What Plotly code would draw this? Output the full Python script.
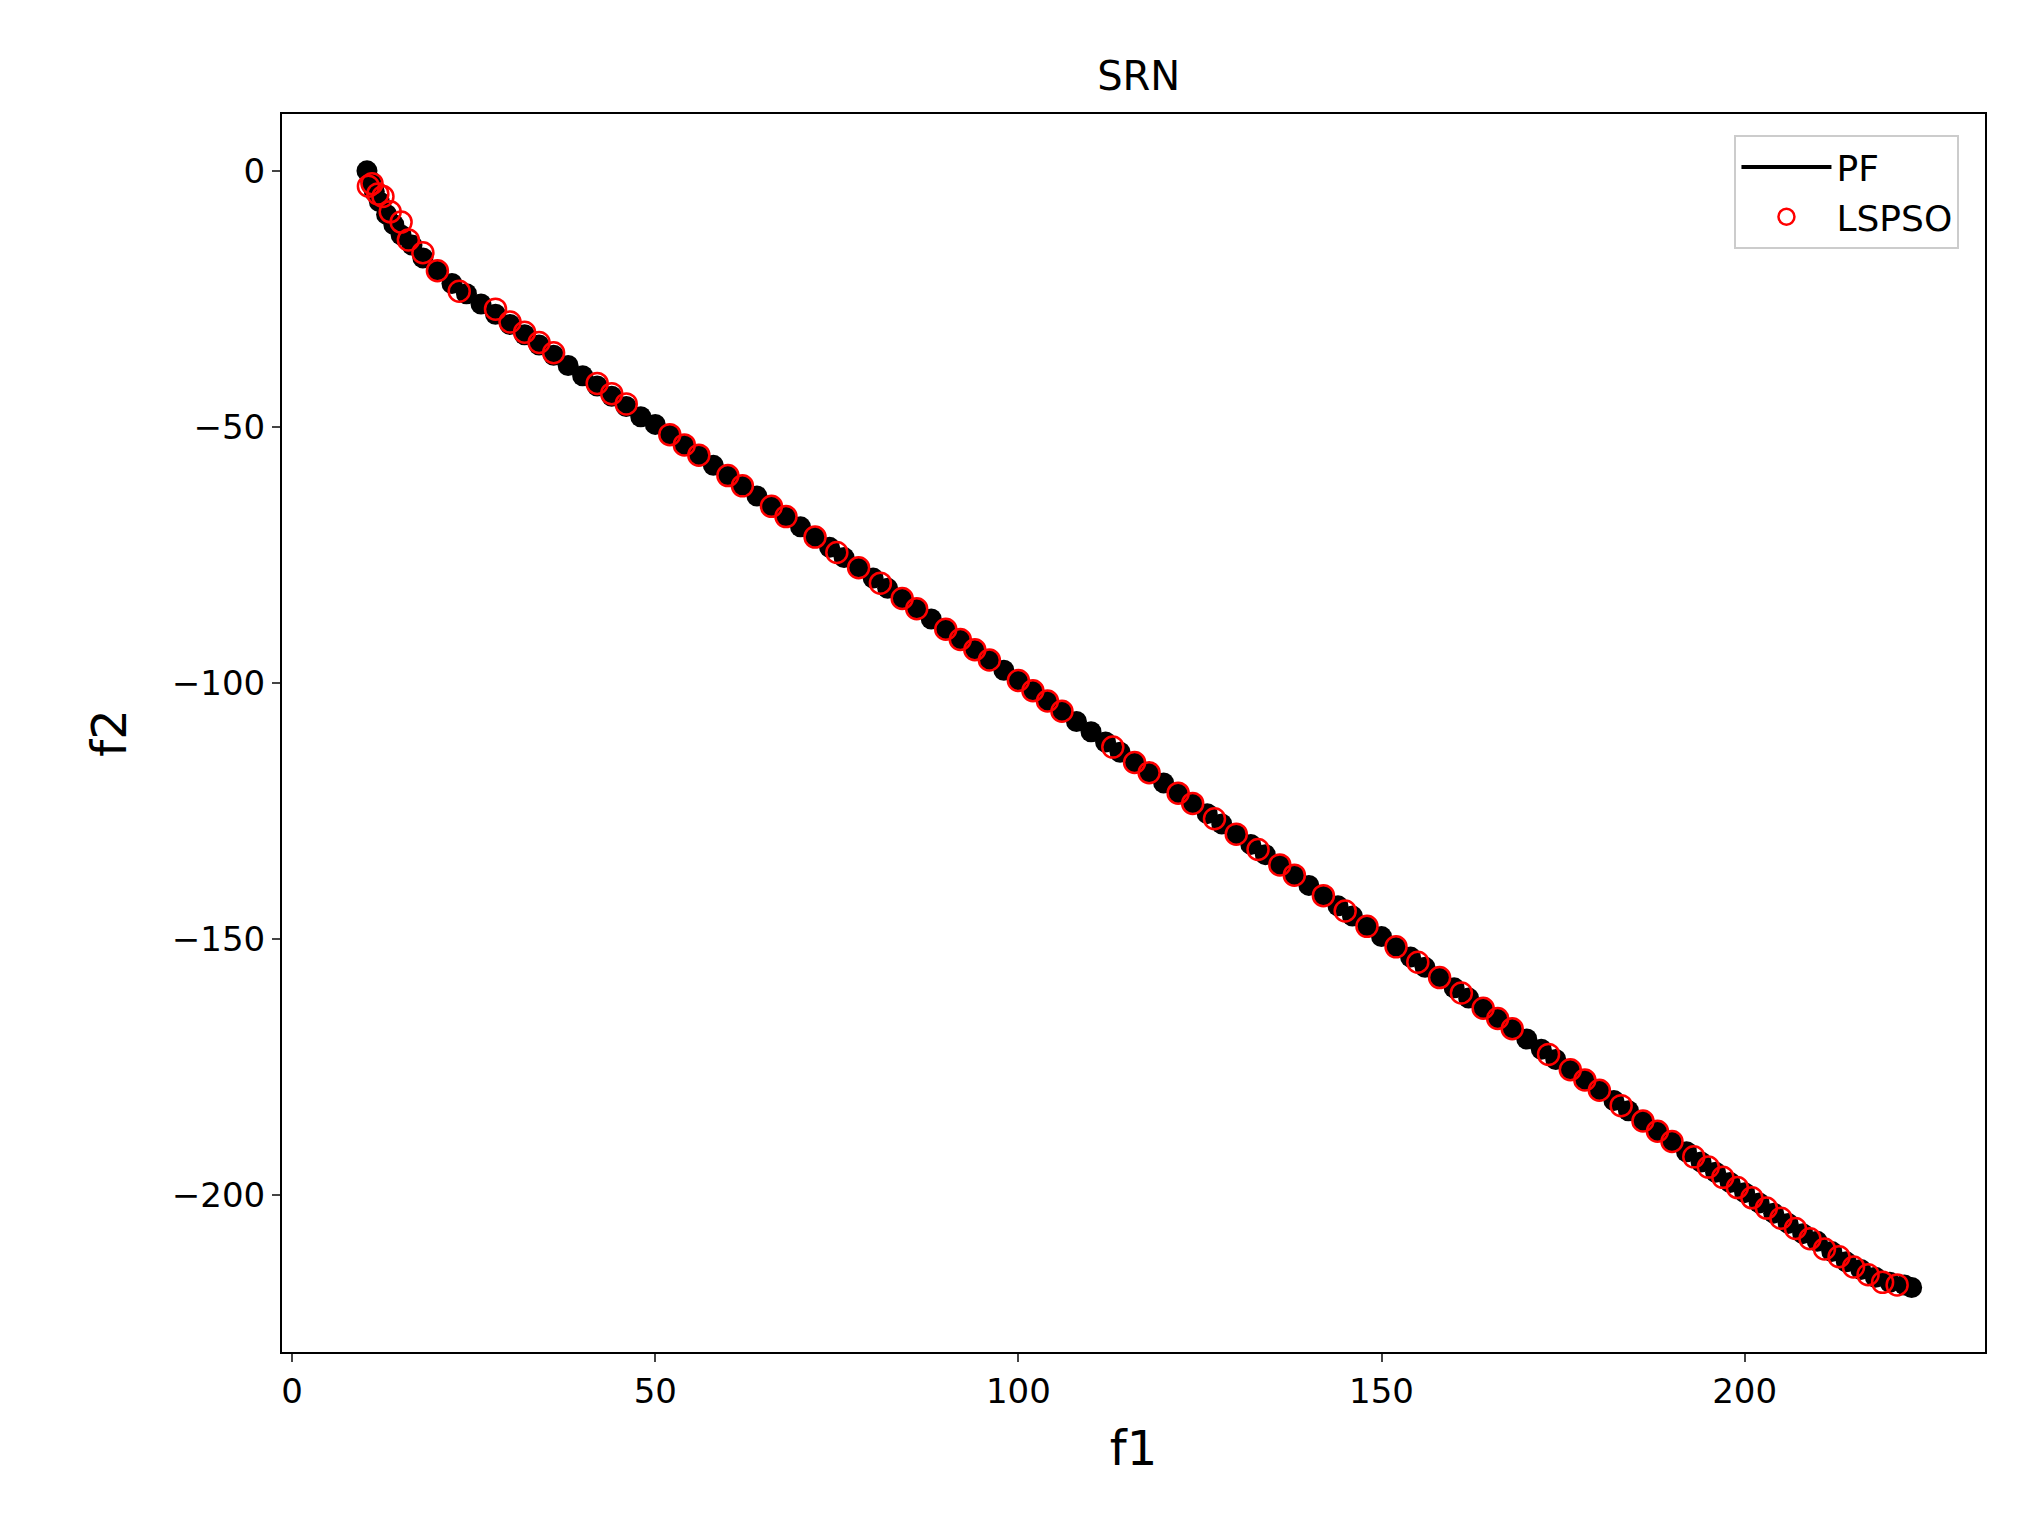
import plotly.graph_objects as go

pf_x = [10.3,10.8,11.3,12,13,14,15,16.5,18,20,22,24,26,28,30,32,34,36,38,40,42,44,46,48,50,52,54,56,58,60,62,64,66,68,70,72,74,76,78,80,82,84,86,88,90,92,94,96,98,100,102,104,106,108,110,112,114,116,118,120,122,124,126,128,130,132,134,136,138,140,142,144,146,148,150,152,154,156,158,160,162,164,166,168,170,172,174,176,178,180,182,184,186,188,190,192,194,196,198,200,202,204,206,208,210,212,214,216,218,220,222,223]
pf_y = [0,-2,-4,-6,-8.5,-10.5,-12.5,-14.5,-17,-19.5,-22,-24,-26,-28,-30,-32,-34,-36,-38,-40,-42,-44,-46,-48,-49.5,-51.5,-53.5,-55.5,-57.5,-59.5,-61.5,-63.5,-65.5,-67.5,-69.5,-71.5,-73.5,-75.5,-77.5,-79.5,-81.5,-83.5,-85.5,-87.5,-89.5,-91.5,-93.5,-95.5,-97.5,-99.5,-101.5,-103.5,-105.5,-107.5,-109.5,-111.5,-113.5,-115.5,-117.5,-119.5,-121.5,-123.5,-125.5,-127.5,-129.5,-131.5,-133.5,-135.5,-137.5,-139.5,-141.5,-143.5,-145.5,-147.5,-149.5,-151.5,-153.5,-155.5,-157.5,-159.5,-161.5,-163.5,-165.5,-167.5,-169.5,-171.5,-173.5,-175.5,-177.5,-179.5,-181.5,-183.5,-185.5,-187.5,-189.5,-191.5,-193.5,-195.5,-197.5,-199.5,-201.5,-203.5,-205.5,-207.5,-209,-211,-213,-214.5,-216,-217,-217.5,-218]

ls_x = [10.5,11,11.8,12.5,13.5,15,16,18,20,23,28,30,32,34,36,42,44,46,52,54,56,60,62,66,68,72,75,78,81,84,86,90,92,94,96,100,102,104,106,113,116,118,122,124,127,130,133,136,138,142,145,148,152,155,158,161,164,166,168,173,176,178,180,183,186,188,190,193,195,197,199,201,203,205,207,209,211,213,215,217,219,221]
ls_y = [-3,-2.5,-4.5,-5,-8,-10,-13.5,-16,-19.5,-23.5,-27,-29.5,-31.5,-33.5,-35.5,-41.5,-43.5,-45.5,-51.5,-53.5,-55.5,-59.5,-61.5,-65.5,-67.5,-71.5,-74.5,-77.5,-80.5,-83.5,-85.5,-89.5,-91.5,-93.5,-95.5,-99.5,-101.5,-103.5,-105.5,-112.5,-115.5,-117.5,-121.5,-123.5,-126.5,-129.5,-132.5,-135.5,-137.5,-141.5,-144.5,-147.5,-151.5,-154.5,-157.5,-160.5,-163.5,-165.5,-167.5,-172.5,-175.5,-177.5,-179.5,-182.5,-185.5,-187.5,-189.5,-192.5,-194.5,-196.5,-198.5,-200.5,-202.5,-204.5,-206.5,-208.5,-210.5,-212,-214,-215.5,-217,-217.5]

fig = go.Figure()
fig.add_trace(go.Scatter(x=pf_x, y=pf_y, mode="markers", showlegend=False,
                         marker=dict(color="black", size=21)))
fig.add_trace(go.Scatter(x=[None], y=[None], mode="lines", name="PF",
                         line=dict(color="black", width=4)))
fig.add_trace(go.Scatter(x=ls_x, y=ls_y, mode="markers", name="LSPSO",
                         marker=dict(color="rgba(0,0,0,0)", size=21, line=dict(color="red", width=2.5))))

ax = dict(showline=True, linecolor="black", linewidth=2, mirror=True, showgrid=False,
          zeroline=False, ticks="outside", ticklen=8, tickwidth=2,
          tickfont=dict(size=34, color="black"))
fig.update_layout(
    width=2030, height=1535, plot_bgcolor="white", paper_bgcolor="white",
    font=dict(family="DejaVu Sans", color="black"),
    margin=dict(l=274, r=53, t=106, b=191),
    title=dict(text="SRN", x=0.557, xanchor="center", y=0.965, font=dict(size=40)),
    xaxis=dict(ax, range=[-1.4, 233.1], tickvals=[0,50,100,150,200],
               title=dict(text="f1", font=dict(size=48), standoff=22)),
    yaxis=dict(ax, range=[-230.6, 11.1], tickvals=[0,-50,-100,-150,-200],
               ticktext=["0","\u221250","\u2212100","\u2212150","\u2212200"],
               title=dict(text="f2", font=dict(size=48), standoff=30)),
    legend=dict(x=0.985, y=0.983, xanchor="right", yanchor="top", bordercolor="#cccccc",
                borderwidth=2, font=dict(size=36), itemwidth=90, bgcolor="white",
                tracegroupgap=12),
)
fig.write_html("out.html")
